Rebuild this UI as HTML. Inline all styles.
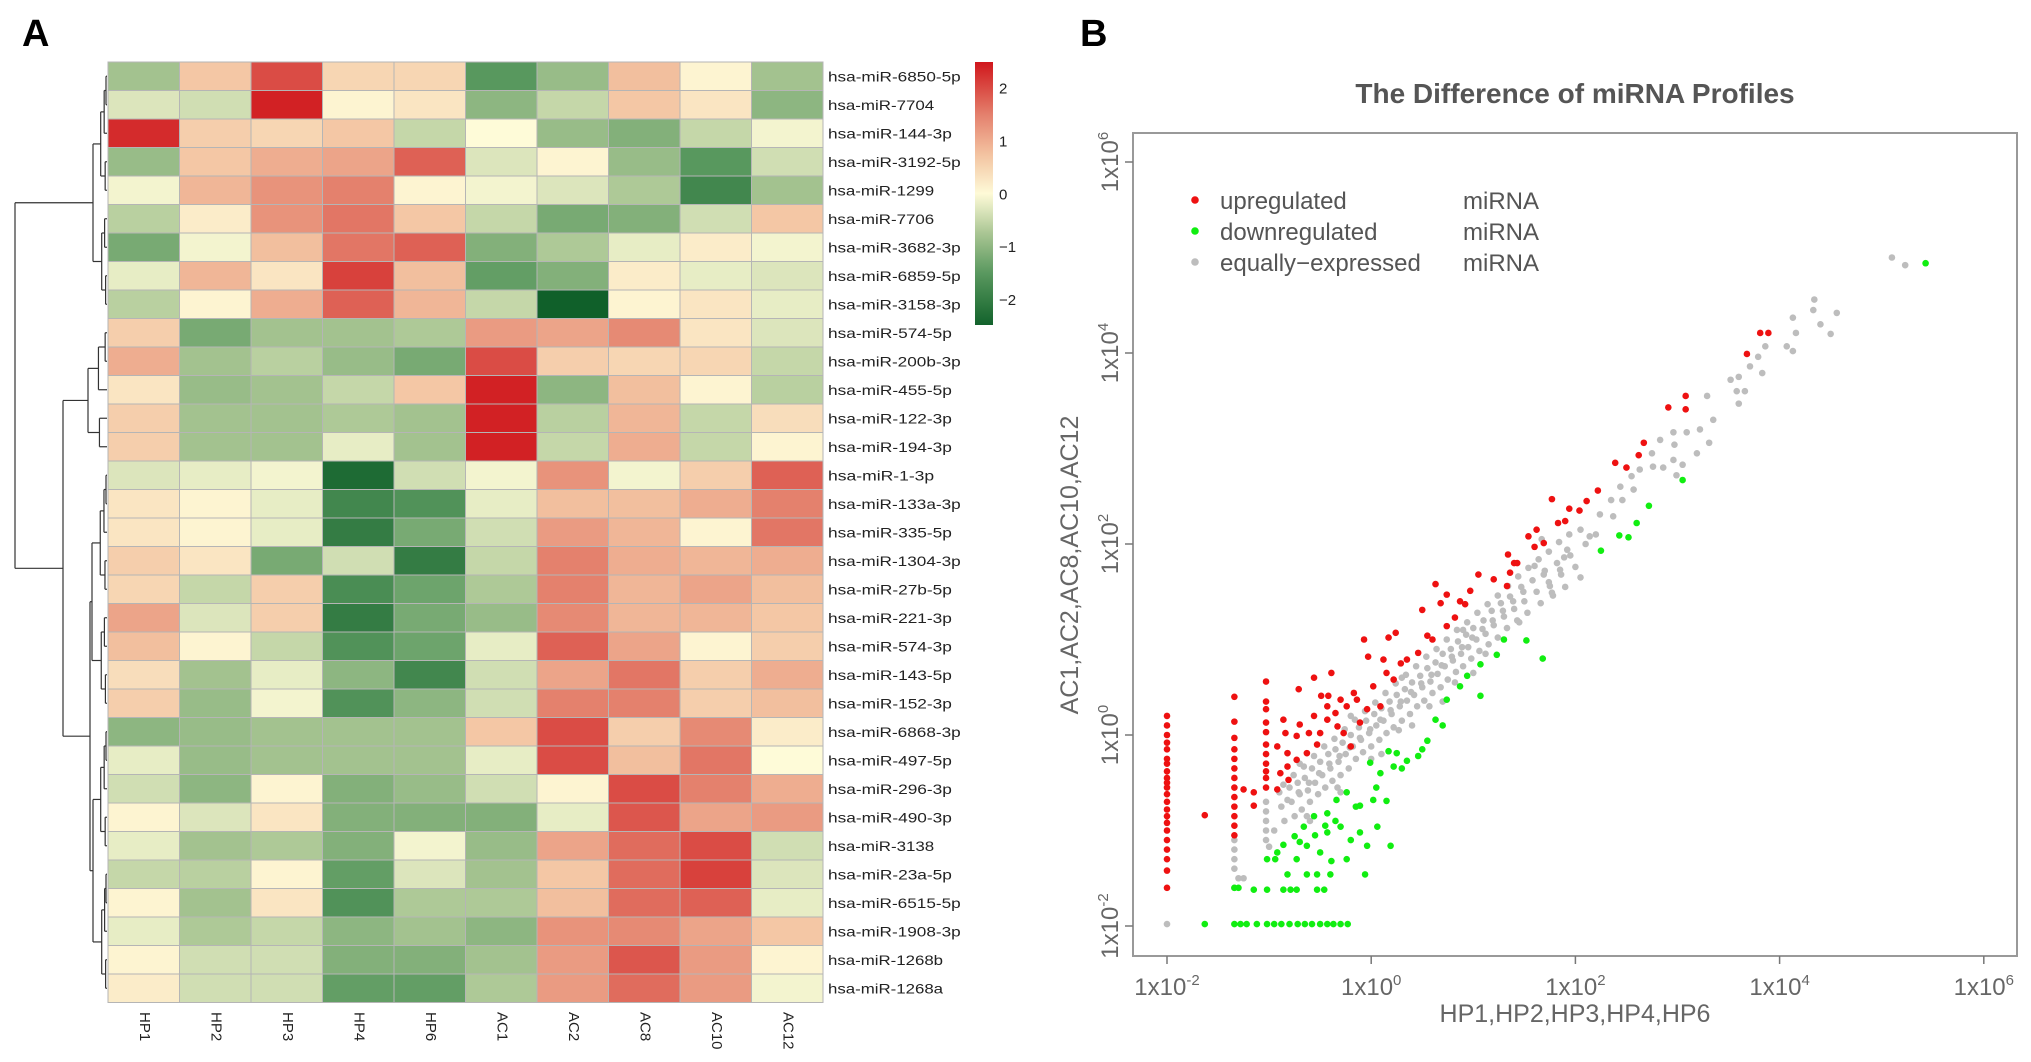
<!DOCTYPE html>
<html><head><meta charset="utf-8"><style>
html,body{margin:0;padding:0;background:#fff;}
svg{display:block;font-family:"Liberation Sans",Arial,sans-serif;}
</style></head><body>
<svg id="fig" width="2031" height="1062" viewBox="0 0 2031 1062">
<text x="22" y="46" font-size="38" font-weight="bold" fill="#000">A</text>
<text x="1080" y="46" font-size="38" font-weight="bold" fill="#000">B</text>
<g id="heat"></g>
<g id="dend"></g>
<g id="cbar"></g>
<g id="scat"></g>
</svg>
<script>
const NS="http://www.w3.org/2000/svg";
const samples=["HP1","HP2","HP3","HP4","HP6","AC1","AC2","AC8","AC10","AC12"];
const mirnas=["hsa-miR-6850-5p","hsa-miR-7704","hsa-miR-144-3p","hsa-miR-3192-5p","hsa-miR-1299","hsa-miR-7706","hsa-miR-3682-3p","hsa-miR-6859-5p","hsa-miR-3158-3p","hsa-miR-574-5p","hsa-miR-200b-3p","hsa-miR-455-5p","hsa-miR-122-3p","hsa-miR-194-3p","hsa-miR-1-3p","hsa-miR-133a-3p","hsa-miR-335-5p","hsa-miR-1304-3p","hsa-miR-27b-5p","hsa-miR-221-3p","hsa-miR-574-3p","hsa-miR-143-5p","hsa-miR-152-3p","hsa-miR-6868-3p","hsa-miR-497-5p","hsa-miR-296-3p","hsa-miR-490-3p","hsa-miR-3138","hsa-miR-23a-5p","hsa-miR-6515-5p","hsa-miR-1908-3p","hsa-miR-1268b","hsa-miR-1268a"];
const zscores=[
[-0.8,0.7,2.0,0.5,0.5,-1.5,-0.9,0.8,0.1,-0.8],
[-0.3,-0.4,2.4,0.1,0.3,-1.0,-0.5,0.7,0.3,-1.0],
[2.3,0.6,0.5,0.7,-0.5,0.0,-0.9,-1.1,-0.5,-0.1],
[-0.9,0.7,1.0,1.1,1.8,-0.3,0.1,-0.9,-1.5,-0.4],
[-0.1,0.9,1.3,1.5,0.1,-0.1,-0.3,-0.7,-1.8,-0.8],
[-0.6,0.2,1.3,1.6,0.7,-0.5,-1.2,-1.1,-0.4,0.7],
[-1.2,-0.1,0.8,1.6,1.8,-1.1,-0.7,-0.2,0.2,-0.1],
[-0.2,0.9,0.3,2.1,0.8,-1.4,-1.1,0.2,-0.2,-0.3],
[-0.6,0.1,1.0,1.8,0.9,-0.5,-2.5,0.1,0.3,-0.2],
[0.6,-1.2,-0.8,-0.8,-0.7,1.2,1.1,1.4,0.3,-0.3],
[1.0,-0.8,-0.6,-0.9,-1.2,2.0,0.6,0.5,0.5,-0.5],
[0.3,-0.9,-0.8,-0.5,0.7,2.4,-1.0,0.8,0.1,-0.6],
[0.6,-0.8,-0.8,-0.7,-0.8,2.4,-0.6,0.9,-0.5,0.4],
[0.6,-0.8,-0.8,-0.2,-0.8,2.4,-0.5,1.0,-0.5,0.1],
[-0.3,-0.2,-0.1,-2.3,-0.4,-0.1,1.3,-0.1,0.6,1.8],
[0.3,0.1,-0.2,-1.8,-1.6,-0.2,0.8,0.8,1.0,1.5],
[0.3,0.1,-0.2,-2.0,-1.2,-0.4,1.2,0.9,0.1,1.6],
[0.6,0.3,-1.2,-0.4,-2.0,-0.5,1.5,1.0,0.9,1.0],
[0.5,-0.5,0.6,-1.7,-1.3,-0.7,1.5,0.9,1.1,0.8],
[1.1,-0.3,0.6,-2.0,-1.2,-0.9,1.4,0.9,0.9,0.7],
[0.8,0.1,-0.5,-1.6,-1.3,-0.2,1.8,1.1,0.1,0.6],
[0.4,-0.8,-0.2,-1.0,-1.8,-0.4,1.1,1.6,0.6,1.0],
[0.6,-0.9,-0.1,-1.6,-1.0,-0.4,1.5,1.5,0.6,0.8],
[-1.0,-0.9,-0.8,-0.8,-0.8,0.7,2.0,0.6,1.4,0.2],
[-0.2,-0.9,-0.8,-0.8,-0.8,-0.2,2.0,0.8,1.6,0.0],
[-0.4,-1.0,0.1,-1.1,-0.9,-0.4,0.1,2.0,1.5,1.0],
[0.1,-0.3,0.3,-1.1,-1.1,-1.1,-0.2,1.9,1.1,1.2],
[-0.2,-0.8,-0.7,-1.1,-0.1,-0.9,1.1,1.7,2.0,-0.4],
[-0.5,-0.6,0.1,-1.4,-0.3,-0.8,0.7,1.7,2.1,-0.3],
[0.1,-0.8,0.3,-1.6,-0.7,-0.7,0.8,1.7,1.8,-0.2],
[-0.2,-0.7,-0.5,-1.0,-0.8,-1.0,1.3,1.4,1.1,0.7],
[0.1,-0.4,-0.4,-1.1,-1.1,-0.8,1.2,1.9,1.2,0.1],
[0.2,-0.4,-0.4,-1.4,-1.4,-0.7,1.2,1.7,1.2,-0.1]];
const cbarTicks=[2,1,0,-1,-2];

// scatter data (log10 values)
const upX=[-2,-2,-2,-2,-2,-2,-2,-2,-2,-2,-2,-2,-2,-2,-2,-2,-2,-2,-2,-2,-2,-2,
-1.34,-1.34,-1.34,-1.34,-1.34,-1.34,-1.34,-1.34,-1.34,-1.34,-1.34,-1.34,-1.34,
-1.03,-1.03,-1.03,-1.03,-1.03,-1.03,-1.03,-1.03,-1.03,-1.03,-1.03,
-1.15,-1.15,-1.25,-1.63,
-0.07,0.17,0.24,-0.03,0.63,0.5,0.68,0.74,0.87,1.05,0.97,1.2,1.36,1.33,1.43,0.74,0.82,0.92,0.6,0.55,0.46,0.35,0.29,0.12,0.15,0.22,0.02,-0.17,-0.3,-0.24,-0.39,-0.56,-0.71,-0.49,-0.42,-0.35,-0.43,-0.56,-0.7,-0.73,-0.61,-0.5,-0.53,-0.63,-0.73,-0.82,-0.86,-0.84,-0.92,-0.82,-0.89,-0.81,-0.92,-0.33,-0.27,-0.2,-0.11,-0.04,0.09,-0.14,-0.43,
1.34,1.4,1.54,1.62,1.69,1.6,1.77,1.83,1.9,1.94,2.04,2.11,2.22,2.39,2.5,2.62,2.67,2.91,3.08,3.08,3.68,3.81,3.89];
const upY=[0.2,0.1,0.0,-0.08,-0.15,-0.25,-0.3,-0.38,-0.45,-0.5,-0.55,-0.62,-0.7,-0.78,-0.85,-0.92,-1.0,-1.1,-1.2,-1.3,-1.42,-1.6,
0.4,0.14,-0.03,-0.15,-0.25,-0.35,-0.45,-0.55,-0.65,-0.75,-0.85,-0.95,-1.05,
0.56,0.35,0.27,0.13,0.03,-0.1,-0.2,-0.3,-0.38,-0.45,-0.55,
-0.6,-0.74,-0.57,-0.84,
1.0,1.02,1.07,0.82,1.58,1.31,1.38,1.47,1.4,1.68,1.51,1.63,1.7,1.56,1.8,1.14,1.23,1.37,1.0,1.04,0.86,0.79,0.75,0.79,0.65,0.58,0.51,0.44,0.37,0.3,0.65,0.6,0.48,0.41,0.41,0.23,0.16,0.2,0.11,-0.01,0.02,0.02,-0.1,-0.19,-0.26,-0.33,0.16,0.02,-0.12,-0.19,-0.4,-0.47,-0.57,0.09,0.02,-0.12,0.13,0.27,0.3,0.37,0.3,
1.89,1.8,2.08,2.15,2.01,1.97,2.47,2.22,2.24,2.37,2.35,2.45,2.56,2.85,2.8,2.93,3.06,3.43,3.55,3.41,3.99,4.21,4.21];
const downX=[5.43,3.05,2.72,2.6,2.43,2.52,2.25,1.52,1.68,1.3,1.23,1.07,1.07,0.94,0.87,0.74,0.63,0.55,0.46,0.35,0.25,0.17,0.22,0.09,-0.01,0.15,0.02,-0.11,-0.24,-0.34,-0.43,-0.56,-0.66,-0.75,-0.86,-0.92,-0.73,-0.63,-0.5,-0.43,-0.3,-0.2,-0.11,-0.04,0.06,0.19,-0.24,-0.39,-0.82,-0.63,-0.53,-0.4,-0.06,
-1.3,-1.15,-1.02,-0.86,-0.79,-0.73,-0.53,-0.46,-1.02,-0.94,-1.34,
-1.63,-1.34,-1.28,-1.22,-1.12,-1.02,-0.95,-0.88,-0.8,-0.72,-0.65,-0.58,-0.5,-0.43,-0.37,-0.3,-0.23,
-0.7,-0.55,-0.45,-0.35,-0.15,0.05,0.3,0.5,0.7];
const downY=[4.94,2.67,2.4,2.22,2.09,2.07,1.93,0.99,0.8,1.0,0.84,0.41,0.74,0.62,0.51,0.37,0.16,-0.06,-0.22,-0.27,-0.19,-0.17,-0.33,-0.4,-0.29,-0.69,-0.68,-0.74,-0.6,-0.68,-0.82,-0.85,-0.96,-1.06,-1.15,-1.23,-1.3,-1.16,-1.23,-1.02,-0.96,-1.1,-1.02,-1.16,-0.96,-1.16,-1.3,-1.32,-1.46,-1.46,-1.46,-1.46,-1.46,
-1.6,-1.62,-1.62,-1.62,-1.62,-1.62,-1.62,-1.62,-1.3,-1.3,-1.6,
-1.98,-1.98,-1.98,-1.98,-1.98,-1.98,-1.98,-1.98,-1.98,-1.98,-1.98,-1.98,-1.98,-1.98,-1.98,-1.98,-1.98,
-1.12,-1.05,-0.95,-0.9,-0.75,-0.55,-0.35,-0.15,0.1];
const eqX=[-2,-1.34,-1.34,-1.34,-1.34,-1.3,-1.25,-1.34,-1.03,-1.03,-1.03,-1.03,-1.03,-1.0,
-0.9,-0.88,-0.85,-0.8,-0.78,-0.75,-0.72,-0.7,-0.68,-0.65,-0.62,-0.6,-0.58,-0.55,-0.52,-0.5,-0.48,-0.45,-0.42,-0.4,-0.38,-0.35,-0.32,-0.3,-0.28,-0.25,-0.22,-0.2,-0.18,-0.15,-0.12,-0.1,-0.08,-0.05,-0.02,0,0.03,0.05,0.08,0.1,0.12,0.15,0.18,0.2,0.22,0.25,0.28,0.3,0.33,0.35,0.38,0.4,0.42,0.45,0.48,0.5,0.52,0.55,0.58,0.6,0.63,0.65,0.68,0.7,0.72,0.75,0.78,0.8,0.83,0.85,0.88,0.9,0.93,0.95,0.98,1.0,1.03,1.06,1.1,1.12,1.15,1.18,1.2,1.24,1.27,1.3,1.33,1.36,1.4,1.43,1.47,1.5,1.53,1.58,1.62,1.66,1.7,1.74,1.78,1.82,1.86,1.9,1.95,2.0,2.05,
-0.6,-0.3,0.1,0.4,0.7,1.0,-0.7,-0.2,0.3,0.9,
1.6,1.67,1.75,1.77,1.85,1.92,2.05,2.14,2.24,2.37,2.35,2.46,2.44,2.55,2.57,2.63,2.75,2.76,2.83,2.86,2.96,2.97,2.99,3.05,3.09,3.19,3.22,3.31,3.35,2.96,
3.29,3.52,3.6,3.58,3.66,3.6,3.71,3.79,3.86,3.83,4.07,4.13,4.13,4.16,4.34,4.33,4.5,4.56,4.4,5.1,5.23,
-0.86,-0.76,-0.66,-0.56,-0.46,-0.36,-0.26,-0.16,-0.06,0.04,0.14,0.24,0.34,0.44,0.54,0.64,0.74,0.84,0.94,1.04,1.14,1.24,1.34,1.44,1.54,1.64,1.74,1.84,1.94,
-0.82,-0.71,-0.61,-0.51,-0.41,-0.31,-0.21,-0.11,-0.01,0.09,0.19,0.29,0.39,0.49,0.59,0.69,0.79,0.89,0.99,1.09,1.19,1.29,1.39,1.49,1.69,1.89,2.1,2.2,
-0.95,-0.63,-0.33,0.0,0.27,0.57,0.82,1.12,1.45];
const eqY=[-1.98,-1.1,-1.2,-1.3,-1.4,-1.5,-1.5,-1.6,-0.7,-0.8,-0.9,-1.0,-1.1,-1.17,
-0.6,-0.75,-0.9,-0.55,-0.7,-0.85,-0.5,-0.62,-0.78,-0.45,-0.58,-0.7,-0.35,-0.5,-0.62,-0.28,-0.42,-0.55,-0.2,-0.35,-0.48,-0.15,-0.28,-0.42,-0.08,-0.2,-0.35,0.0,-0.12,-0.25,0.08,-0.05,-0.18,0.15,0.02,-0.12,0.22,0.1,-0.05,0.28,0.15,0.02,0.35,0.22,0.08,0.42,0.3,0.15,0.48,0.36,0.22,0.55,0.42,0.3,0.62,0.5,0.36,0.7,0.56,0.44,0.76,0.64,0.5,0.85,0.72,0.58,0.9,0.78,0.66,0.98,0.85,0.72,1.05,0.92,0.8,1.12,1.0,0.88,1.2,1.06,0.95,1.3,1.15,1.02,1.38,1.24,1.12,1.45,1.32,1.2,1.55,1.4,1.28,1.62,1.5,1.38,1.72,1.6,1.46,1.8,1.68,1.55,1.88,1.76,1.65,
-0.9,-0.6,-0.2,0.1,0.35,0.65,-0.3,0.2,0.6,1.1,
1.77,2.05,1.56,1.49,1.73,1.94,2.15,2.08,2.31,2.29,2.46,2.46,2.6,2.71,2.57,2.78,2.95,2.81,3.09,2.8,2.88,3.04,2.72,2.83,3.17,2.95,3.2,3.06,3.3,3.17,
3.55,3.72,3.75,3.6,3.6,3.47,3.86,3.96,4.07,3.79,4.07,4.02,4.37,4.21,4.56,4.45,4.2,4.42,4.3,5.0,4.92,
-0.52,-0.42,-0.33,-0.22,-0.12,-0.04,0.06,0.16,0.25,0.34,0.44,0.54,0.63,0.72,0.82,0.9,1.0,1.1,1.18,1.28,1.37,1.46,1.56,1.66,1.75,1.84,1.92,2.02,2.1,
-0.68,-0.6,-0.5,-0.4,-0.3,-0.22,-0.13,-0.03,0.06,0.16,0.26,0.35,0.45,0.54,0.63,0.73,0.82,0.92,1.02,1.11,1.2,1.3,1.4,1.5,1.68,1.86,2.0,2.1,
-1.0,-0.85,-0.55,-0.25,0.05,0.3,0.55,0.85,1.18];
const xTicks=[-2,0,2,4,6];
const yTicks=[-2,0,2,4,6];
const tickExp=["-2","0","2","4","6"];

function mk(tag,attrs,parent){const e=document.createElementNS(NS,tag);for(const k in attrs)e.setAttribute(k,attrs[k]);parent.appendChild(e);return e;}

// ---------- heatmap ----------
const HX=108,HY=62,CW=71.5,RH=28.5;
const stops=[[-2.5,[16,96,42]],[-1.5,[88,152,94]],[-0.75,[168,197,146]],[0,[254,251,216]],[0.75,[243,195,161]],[1.5,[228,129,109]],[2.5,[208,22,28]]];
function col(v){if(v<=stops[0][0])return "rgb("+stops[0][1]+")";for(let i=1;i<stops.length;i++){if(v<=stops[i][0]){const a=stops[i-1],b=stops[i];const t=(v-a[0])/(b[0]-a[0]);const c=a[1].map((x,j)=>Math.round(x+(b[1][j]-x)*t));return "rgb("+c.join(",")+")";}}return "rgb("+stops[stops.length-1][1]+")";}
const heat=document.getElementById('heat');
zscores.forEach((row,r)=>{row.forEach((v,c)=>{
 const rc=mk('rect',{x:HX+c*CW,y:HY+r*RH,width:CW,height:RH,fill:col(v),stroke:"#b5b5b5","stroke-width":1},heat);
 
 
});
 const lab=mirnas[r];
 const t=mk('text',{x:HX+10*CW+5,y:HY+r*RH+RH/2+5,"font-size":14,fill:"#222",textLength:lab.length*8.85,lengthAdjust:"spacingAndGlyphs"},heat);t.textContent=lab;
 
 
});
samples.forEach((s,c)=>{const cx=HX+c*CW+CW/2,cy=1012;
 const t=mk('text',{x:cx,y:cy,"font-size":15,fill:"#222",transform:`rotate(90 ${cx} ${cy})`,"dominant-baseline":"middle"},heat);t.textContent=s;
 
 
});
// colorbar
const cbar=document.getElementById('cbar');
const CB={x:975,y:62,w:18,h:263,top:2.5,bot:-2.47};
const defs=mk('defs',{},cbar);const lg=mk('linearGradient',{id:'cg',x1:0,y1:0,x2:0,y2:1},defs);
for(let i=0;i<=20;i++){const v=CB.top+(CB.bot-CB.top)*i/20;mk('stop',{offset:i/20,"stop-color":col(v)},lg);}
const cbr=mk('rect',{x:CB.x,y:CB.y,width:CB.w,height:CB.h,fill:"url(#cg)"},cbar);


cbarTicks.forEach(v=>{const y=CB.y+(CB.top-v)/(CB.top-CB.bot)*CB.h;
 const t=mk('text',{x:CB.x+24,y:y+5,"font-size":15,fill:"#222"},cbar);t.textContent=v<0?"\u2212"+(-v):String(v);
 
 
});
// dendrogram
const dend=document.getElementById('dend');
function ln(x1,y1,x2,y2){mk('line',{x1,y1,x2,y2,stroke:"#333","stroke-width":1.2},dend);}
const leafX=107;
function yRow(i){return HY+i*RH+RH/2;}
function build(a,b,h){
 if(a===b) return [leafX,yRow(a)];
 const m=Math.floor((a+b)/2);
 const span=leafX-h;const ch=h+span*0.55;
 const L=build(a,m,Math.min(leafX-1,ch+(b-a<3?2:0)));const R=build(m+1,b,Math.min(leafX-1,ch+1));
 ln(h,L[1],L[0],L[1]);ln(h,R[1],R[0],R[1]);ln(h,L[1],h,R[1]);return [h,(L[1]+R[1])/2];}
const cA=build(0,8,93);
const cB1=build(9,13,88);
const cB2a=build(14,22,92);
const cB2b=build(23,32,93);
ln(90,cB2a[1],92,cB2a[1]);ln(90,cB2b[1],93,cB2b[1]);ln(90,cB2a[1],90,cB2b[1]);
const b2y=(cB2a[1]+cB2b[1])/2;
ln(63,cB1[1],88,cB1[1]);ln(63,b2y,90,b2y);ln(63,cB1[1],63,b2y);
const by=(cB1[1]+b2y)/2;
ln(15,cA[1],93,cA[1]);ln(15,by,63,by);ln(15,cA[1],15,by);

// ---------- scatter ----------
const sc=document.getElementById('scat');
const BOX={l:1133,r:2017,t:133,b:956};
const XM={v0:-2,p0:1167,per:102.1}, YM={v0:-2,p0:926,per:95.5};
const xs=v=>XM.p0+(v-XM.v0)*XM.per, ys=v=>YM.p0-(v-YM.v0)*YM.per;
const title=mk('text',{x:1575,y:103,"font-size":28,"font-weight":"bold",fill:"#555","text-anchor":"middle"},sc);title.textContent="The Difference of miRNA Profiles";


function pts(X,Y,fill,name){X.forEach((x,i)=>{const c=mk('circle',{cx:xs(x),cy:ys(Y[i]),r:3.3,fill},sc);
 
 });}
pts(eqX,eqY,"#bdbdbd",'equal-point');
pts(upX,upY,"#ee1111",'up-point');
pts(downX,downY,"#11ee11",'down-point');
const frame=mk('rect',{x:BOX.l,y:BOX.t,width:BOX.r-BOX.l,height:BOX.b-BOX.t,fill:"none",stroke:"#999","stroke-width":2},sc);


xTicks.forEach((v,i)=>{const x=xs(v);mk('line',{x1:x,y1:BOX.b,x2:x,y2:BOX.b+8,stroke:"#777","stroke-width":1.5},sc);
 const t=mk('text',{x:x,y:995,"font-size":24,fill:"#666","text-anchor":"middle"},sc);
 t.innerHTML='1x10<tspan font-size="15" dy="-10">'+tickExp[i]+'</tspan>';
 
 });
yTicks.forEach((v,i)=>{const y=ys(v);mk('line',{x1:BOX.l-8,y1:y,x2:BOX.l,y2:y,stroke:"#777","stroke-width":1.5},sc);
 const t=mk('text',{x:1118,y:y,"font-size":24,fill:"#666","text-anchor":"middle",transform:`rotate(-90 1118 ${y})`},sc);
 t.innerHTML='1x10<tspan font-size="15" dy="-10">'+tickExp[i]+'</tspan>';
 
 });
const xt=mk('text',{x:1575,y:1022,"font-size":25,fill:"#666","text-anchor":"middle"},sc);xt.textContent="HP1,HP2,HP3,HP4,HP6";


const yt=mk('text',{x:1078,y:565,"font-size":25,fill:"#666","text-anchor":"middle",transform:"rotate(-90 1078 565)"},sc);yt.textContent="AC1,AC2,AC8,AC10,AC12";


const leg=[["upregulated","#ee1111",201],["downregulated","#11ee11",232],["equally\u2212expressed","#bdbdbd",263]];
leg.forEach(d=>{const g=mk('g',{},sc);
 
 
 mk('circle',{cx:1195,cy:d[2]-1,r:3.8,fill:d[1]},g);
 const t1=mk('text',{x:1220,y:d[2]+8,"font-size":24,fill:"#555"},g);t1.textContent=d[0];
 const t2=mk('text',{x:1463,y:d[2]+8,"font-size":24,fill:"#555"},g);t2.textContent="miRNA";});
</script>
</body></html>
